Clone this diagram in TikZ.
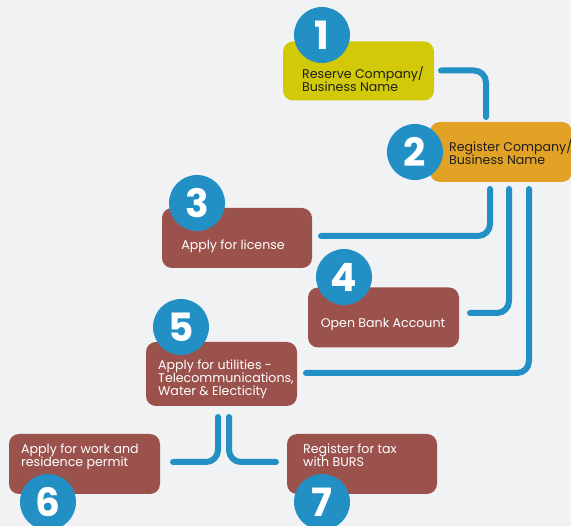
\documentclass[tikz,border=0pt]{standalone}
\usepackage{fontspec}
\setmainfont{Poppins}
\newfontfamily\numfont{Poppins}
\definecolor{bgc}{HTML}{F1F2F4}
\definecolor{blu}{HTML}{2390C5}
\definecolor{yel}{HTML}{D2CA09}
\definecolor{ora}{HTML}{E2A226}
\definecolor{brk}{HTML}{9C524C}
\definecolor{dtx}{HTML}{1E1E1E}
\tikzset{
  stepbox/.style={rectangle, rounded corners=10pt, inner sep=0pt, minimum width=151pt, minimum height=60pt},
  numc/.style={circle, fill=blu, inner sep=0pt, minimum size=56pt, text=white, font=\numfont\bfseries\fontsize{39}{39}\selectfont},
  lbl/.style={inner sep=0pt, align=left, font=\fontsize{12.6}{13}\selectfont},
  conn/.style={draw=blu, line width=6pt, line cap=round, rounded corners=12pt}
}
\begin{document}
\begin{tikzpicture}[x=1pt,y=-1pt]
\fill[bgc] (0,0) rectangle (571,526);
\useasboundingbox (0,0) rectangle (571,526);
\clip (0,0) rectangle (571,526);
% connector coordinates
\coordinate (c12s) at (441,70.5);
\coordinate (c12e) at (486,117);
\coordinate (a1) at (490,189);
\coordinate (a2) at (321,236);
\coordinate (b1) at (509,189);
\coordinate (b2) at (470,313);
\coordinate (d1) at (529,189);
\coordinate (d2) at (306,373);
\coordinate (e1) at (218,417);
\coordinate (e2) at (173,462);
\coordinate (f1) at (229,417);
\coordinate (f2) at (276,462);
\draw[conn] (c12s) -| (c12e);
\draw[conn] (a1) |- (a2);
\draw[conn] (b1) |- (b2);
\draw[conn] (d1) |- (d2);
\draw[conn] (e1) |- (e2);
\draw[conn] (f1) |- (f2);
% boxes
\node[stepbox, fill=yel, minimum height=59pt] (s1) at (358.5,71) {};
\node[stepbox, fill=ora, minimum width=142pt] (s2) at (501,152) {};
\node[stepbox, fill=brk, minimum width=150pt] (s3) at (237,238) {};
\node[stepbox, fill=brk] (s4) at (383.5,317.5) {};
\node[stepbox, fill=brk, minimum height=64pt] (s5) at (221.5,374) {};
\node[stepbox, fill=brk] (s6) at (84.5,464) {};
\node[stepbox, fill=brk, minimum width=150pt] (s7) at (362,464) {};
% labels
\node[lbl, text=dtx, anchor=north west] (t1) at (302,66) {Reserve Company/\\Business Name};
\node[lbl, text=dtx, anchor=north west] (t2) at (449,139) {Register Company/\\Business Name};
\node[lbl, text=white, anchor=base] (t3) at (233,250) {Apply for license};
\node[lbl, text=white, anchor=base] (t4) at (383,328) {Open Bank Account};
\node[lbl, text=white, anchor=north west] (t5) at (158,360) {Apply for utilities -\\Telecommunications,\\Water \& Electicity};
\node[lbl, text=white, anchor=north west] (t6) at (21,444) {Apply for work and\\residence permit};
\node[lbl, text=white, anchor=north west] (t7) at (303,444) {Register for tax\\with BURS};
% number circles
\node[numc] (n1) at (322,35) {1};
\node[numc] (n2) at (415,152) {2};
\node[numc] (n3) at (197,203) {3};
\node[numc] (n4) at (344,277) {4};
\node[numc] (n5) at (181,327) {5};
\node[numc] (n6) at (48,502) {6};
\node[numc] (n7) at (322,502) {7};
\end{tikzpicture}
\end{document}
